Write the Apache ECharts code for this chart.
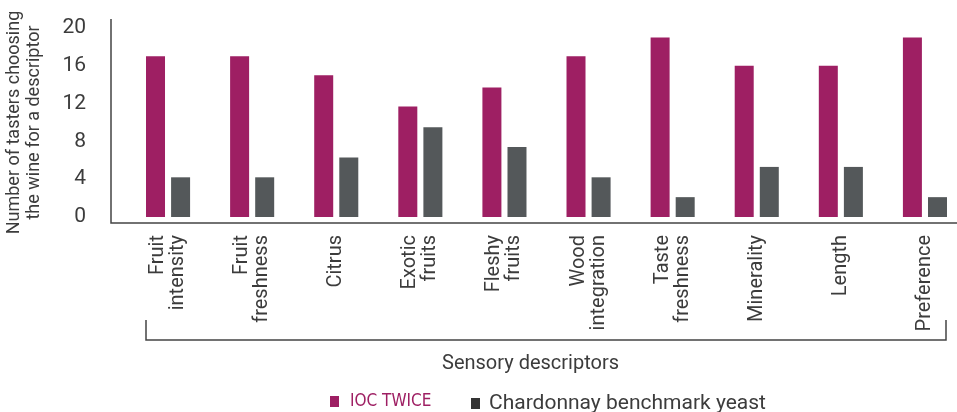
<!DOCTYPE html>
<html>
<head>
<meta charset="utf-8">
<script src="https://cdn.jsdelivr.net/npm/echarts@6/dist/echarts.min.js"></script>
<style>
  html, body { margin: 0; padding: 0; background: #fff; }
  #chart { width: 957px; height: 412px; }
</style>
</head>
<body>
<div id="chart"></div>
<script>
// data
const descriptors = ['Fruit\nintensity', 'Fruit\nfreshness', 'Citrus', 'Exotic\nfruits', 'Fleshy\nfruits',
  'Wood\nintegration', 'Taste\nfreshness', 'Minerality', 'Length', 'Preference'];
const iocTwice = [17, 17, 15, 11.7, 13.7, 17, 19, 16, 16, 19];
const benchmark = [4.2, 4.2, 6.3, 9.5, 7.4, 4.2, 2.1, 5.3, 5.3, 2.1];
const seriesNames = ['IOC TWICE', 'Chardonnay benchmark yeast'];
const yMin = 0, yMax = 20, yStep = 4;

const MAGENTA = '#9e1f63';
const GREY = '#54585a';
const INK = '#3c3c3c';

const chart = echarts.init(document.getElementById('chart'), null, { renderer: 'canvas' });

const legendBase = { top: 388, itemWidth: 9, itemHeight: 11, icon: 'rect' };

const option = {
  animation: false,
  textStyle: { fontFamily: 'Roboto' },
  grid: { left: 126, top: 28, width: 841, bottom: 195, outerBoundsMode: 'none' },
  legend: [
    Object.assign({}, legendBase, {
      left: 325,
      data: [{ name: seriesNames[0], itemStyle: { color: MAGENTA },
        textStyle: { color: MAGENTA, fontFamily: "'DejaVu Sans Condensed', 'Roboto', sans-serif",
          fontSize: 17, padding: [0, 0, 0, 6] } }]
    }),
    Object.assign({}, legendBase, {
      left: 466,
      data: [{ name: seriesNames[1], itemStyle: { color: '#333' },
        textStyle: { color: INK, fontFamily: 'Roboto', fontSize: 21, padding: [0, 0, 0, 4] } }]
    })
  ],
  xAxis: {
    type: 'category',
    data: descriptors,
    axisLine: { show: false },
    axisTick: { show: false },
    axisLabel: {
      rotate: 90, interval: 0, margin: 18,
      fontSize: 20, lineHeight: 20, color: INK, align: 'right'
    }
  },
  yAxis: {
    type: 'value',
    min: yMin, max: yMax, interval: yStep,
    offset: 15,
    axisLine: { show: false },
    axisTick: { show: false },
    splitLine: { show: false },
    axisLabel: { fontSize: 21, color: INK, margin: 25 },
    name: 'Number of tasters choosing\nthe wine for a descriptor',
    nameLocation: 'middle',
    nameGap: 67,
    nameRotate: 90,
    nameTextStyle: { fontSize: 18, lineHeight: 20, color: INK }
  },
  series: [
    { name: seriesNames[0], type: 'bar', data: iocTwice, barWidth: 19, barGap: '32%',
      itemStyle: { color: MAGENTA } },
    { name: seriesNames[1], type: 'bar', data: benchmark, barWidth: 19,
      itemStyle: { color: GREY } }
  ],
  graphic: [
    // L-shaped axis frame
    { type: 'polyline', silent: true,
      shape: { points: [[111, 19], [111, 223], [957, 223]] },
      style: { stroke: '#444', lineWidth: 1.5, fill: null } },
    // bracket under the descriptor labels
    { type: 'polyline', silent: true,
      shape: { points: [[146, 320], [146, 340], [946, 340], [946, 320]] },
      style: { stroke: '#444', lineWidth: 1.5, fill: null } },
    { type: 'text', left: 442, top: 354,
      style: { text: 'Sensory descriptors', fontSize: 20, fontFamily: 'Roboto', fill: INK } }
  ]
};

chart.setOption(option);
</script>
</body>
</html>
